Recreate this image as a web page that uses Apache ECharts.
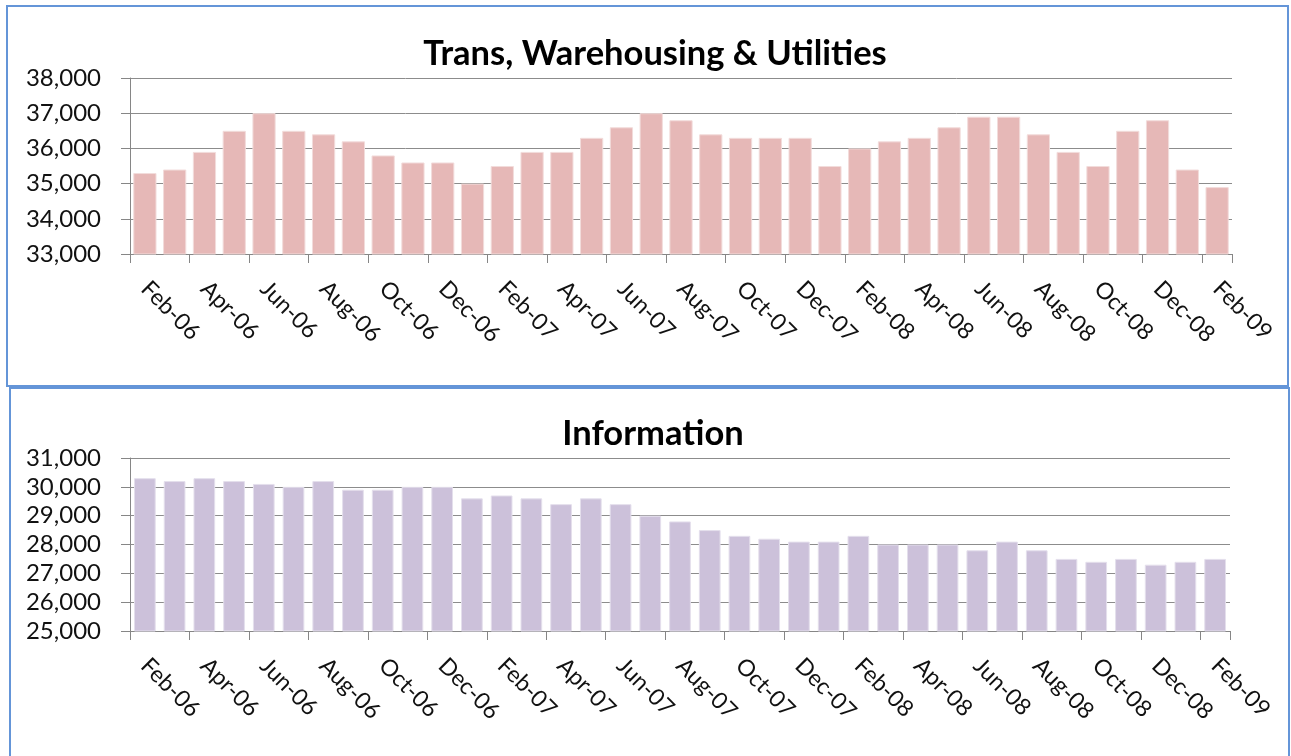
<!DOCTYPE html>
<html>
<head>
<meta charset="utf-8">
<script src="https://cdn.jsdelivr.net/npm/echarts@6/dist/echarts.min.js"></script>
<style>
	html, body { margin: 0; padding: 0; background: #ffffff; }
	#main { width: 1291px; height: 756px; }
</style>
</head>
<body>
<div id="main"></div>
<script>
// months, one bar each (labels shown every 2nd)
var months = [
	"Feb-06", "Mar-06", "Apr-06", "May-06", "Jun-06", "Jul-06", "Aug-06", "Sep-06", "Oct-06", "Nov-06", "Dec-06", "Jan-07",
	"Feb-07", "Mar-07", "Apr-07", "May-07", "Jun-07", "Jul-07", "Aug-07", "Sep-07", "Oct-07", "Nov-07", "Dec-07", "Jan-08",
	"Feb-08", "Mar-08", "Apr-08", "May-08", "Jun-08", "Jul-08", "Aug-08", "Sep-08", "Oct-08", "Nov-08", "Dec-08", "Jan-09",
	"Feb-09"
];

// Trans, Warehousing & Utilities
var transValues = [
	35300, 35400, 35900, 36500, 37000, 36500, 36400, 36200, 35800, 35600, 35600, 35000,
	35500, 35900, 35900, 36300, 36600, 37000, 36800, 36400, 36300, 36300, 36300, 35500,
	36000, 36200, 36300, 36600, 36900, 36900, 36400, 35900, 35500, 36500, 36800, 35400,
	34900
];

// Information
var infoValues = [
	30300, 30200, 30300, 30200, 30100, 30000, 30200, 29900, 29900, 30000, 30000, 29600,
	29700, 29600, 29400, 29600, 29400, 29000, 28800, 28500, 28300, 28200, 28100, 28100,
	28300, 28000, 28000, 28000, 27800, 28100, 27800, 27500, 27400, 27500, 27300, 27400,
	27500
];

var font = "Lato, 'Liberation Sans', sans-serif";

var chart = echarts.init(document.getElementById('main'), null, { renderer: 'canvas' });

function fmt(v) {
	return echarts.format.addCommas(v);
}

function xAxisFor(idx) {
	return {
		type: 'category',
		gridIndex: idx,
		data: months,
		axisLine: { lineStyle: { color: '#868686', width: 1 } },
		axisTick: { show: true, interval: 1, length: 9, lineStyle: { color: '#868686' } },
		axisLabel: {
			interval: 1,
			rotate: -45,
			margin: 31,
			color: '#111111',
			fontFamily: font,
			fontSize: 23
		},
		splitLine: { show: false }
	};
}

function yAxisFor(idx, min, max) {
	return {
		type: 'value',
		gridIndex: idx,
		min: min,
		max: max,
		interval: 1000,
		axisLine: { show: true, lineStyle: { color: '#868686' } },
		axisTick: { show: true, length: 9, lineStyle: { color: '#868686' } },
		axisLabel: {
			margin: 29,
			color: '#111111',
			fontFamily: font,
			fontSize: 24,
			formatter: fmt
		},
		splitLine: { lineStyle: { color: '#8c8c8c', width: 1 } }
	};
}

var option = {
	backgroundColor: '#ffffff',
	animation: false,
	title: [{
		text: 'Trans, Warehousing & Utilities',
		left: 650,
		top: 31,
		textAlign: 'center',
		textStyle: { fontFamily: font, fontSize: 34.5, fontWeight: 'bold', color: '#000000' }
	}, {
		text: 'Information',
		left: 648,
		top: 411,
		textAlign: 'center',
		textStyle: { fontFamily: font, fontSize: 34.5, fontWeight: 'bold', color: '#000000' }
	}],
	grid: [
		{ left: 130, right: 59, top: 78, height: 176 },
		{ left: 130, right: 61, top: 458, height: 173 }
	],
	xAxis: [xAxisFor(0), xAxisFor(1)],
	yAxis: [yAxisFor(0, 33000, 38000), yAxisFor(1, 25000, 31000)],
	series: [{
		name: 'Trans, Warehousing & Utilities',
		type: 'bar',
		xAxisIndex: 0,
		yAxisIndex: 0,
		data: transValues,
		barCategoryGap: '22%',
		itemStyle: { color: '#e6b8b7', borderColor: '#f2dcdb', borderWidth: 1 }
	}, {
		name: 'Information',
		type: 'bar',
		xAxisIndex: 1,
		yAxisIndex: 1,
		data: infoValues,
		barCategoryGap: '27%',
		itemStyle: { color: '#ccc1da', borderColor: '#e4dfec', borderWidth: 1 }
	}],
	graphic: [{
		type: 'rect',
		shape: { x: 7, y: 6, width: 1281, height: 380 },
		style: { fill: 'none', stroke: '#6495d8', lineWidth: 2 },
		silent: true
	}, {
		type: 'rect',
		shape: { x: 10, y: 388, width: 1279, height: 380 },
		style: { fill: 'none', stroke: '#6495d8', lineWidth: 2 },
		silent: true
	}]
};

chart.setOption(option);
</script>
</body>
</html>
